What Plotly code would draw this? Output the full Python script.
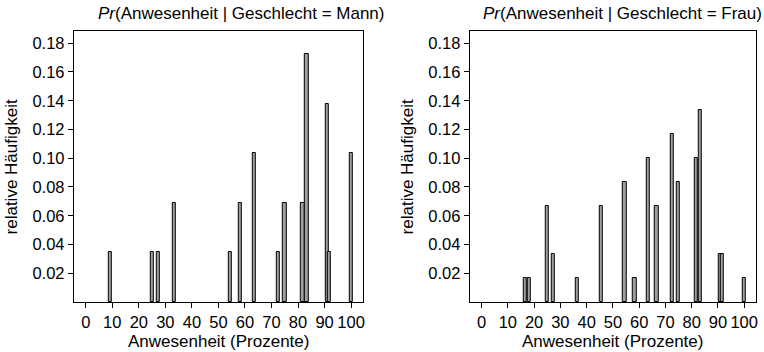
import plotly.graph_objects as go

# Anwesenheit (Prozente) and counts per group
mann_x = [9.1, 25.0, 27.3, 33.3, 54.5, 58.3, 63.6, 72.7, 75.0, 81.8, 83.3, 90.9, 91.7, 100.0]
mann_n = [1, 1, 1, 2, 1, 2, 3, 1, 2, 2, 5, 4, 1, 3]
frau_x = [16.7, 18.2, 25.0, 27.3, 36.4, 45.5, 54.5, 58.3, 63.6, 66.7, 72.7, 75.0, 81.8, 83.3, 90.9, 91.7, 100.0]
frau_n = [1, 1, 4, 2, 1, 4, 5, 1, 6, 4, 7, 5, 6, 8, 2, 2, 1]

mann_y = [n / sum(mann_n) for n in mann_n]
frau_y = [n / sum(frau_n) for n in frau_n]

x_ticks = list(range(0, 101, 10))
y_ticks = [0.02, 0.04, 0.06, 0.08, 0.10, 0.12, 0.14, 0.16, 0.18]
titles = ["<i>Pr</i>(Anwesenheit | Geschlecht = Mann)",
          "<i>Pr</i>(Anwesenheit | Geschlecht = Frau)"]

W, H = 764, 352
FONT = "Liberation Sans, Arial, Helvetica, sans-serif"
fs_tick = 16.5
fs_lab = 17
fs_title = 17

fig = go.Figure()
bar_style = dict(marker=dict(color="#a0a0a0", line=dict(color="black", width=1)),
                 width=1.2, showlegend=False, hoverinfo="x+y")
fig.add_trace(go.Bar(x=mann_x, y=mann_y, xaxis="x", yaxis="y", **bar_style))
fig.add_trace(go.Bar(x=frau_x, y=frau_y, xaxis="x2", yaxis="y2", **bar_style))

panels = [(74, 364), (471, 758)]
title_left = [96, 482]
top, bottom = 31, 302
ydom = [1 - bottom / H, 1 - top / H]

ax_common = dict(showline=True, linecolor="black", linewidth=1, mirror=True,
                 ticks="outside", ticklen=5, tickcolor="black", tickwidth=1,
                 showgrid=False, zeroline=False, tickangle=0,
                 tickfont=dict(family=FONT, size=fs_tick, color="black"))

layout = dict(width=W, height=H, margin=dict(l=0, r=0, t=0, b=0),
              plot_bgcolor="white", paper_bgcolor="white", bargap=0,
              font=dict(family=FONT, size=fs_tick, color="black"))
annotations = []
for i, (l, r) in enumerate(panels):
    sfx = "" if i == 0 else str(i + 1)
    layout["xaxis" + sfx] = dict(domain=[l / W, r / W], range=[-4.5, 104.5],
                                 tickvals=x_ticks, anchor="y" + sfx, **ax_common)
    layout["yaxis" + sfx] = dict(domain=ydom, range=[0, 0.1885], tickvals=y_ticks,
                                 tickformat=".2f", anchor="x" + sfx, **ax_common)
    cx = (l + r) / 2
    annotations.append(dict(text=titles[i], x=title_left[i] / W, y=1 - 13 / H,
                            xref="paper", yref="paper", showarrow=False,
                            xanchor="left", yanchor="middle",
                            font=dict(family=FONT, size=fs_title, color="black")))
    annotations.append(dict(text="Anwesenheit (Prozente)", x=cx / W, y=0,
                            xref="paper", yref="paper", showarrow=False,
                            xanchor="center", yanchor="bottom", borderpad=0,
                            font=dict(family=FONT, size=fs_lab, color="black")))
    annotations.append(dict(text="relative Häufigkeit", x=(l - 62) / W,
                            y=1 - (top + bottom) / 2 / H,
                            xref="paper", yref="paper", showarrow=False, textangle=-90,
                            xanchor="center", yanchor="middle",
                            font=dict(family=FONT, size=fs_lab, color="black")))
layout["annotations"] = annotations
fig.update_layout(**layout)
fig.write_html("out.html")
